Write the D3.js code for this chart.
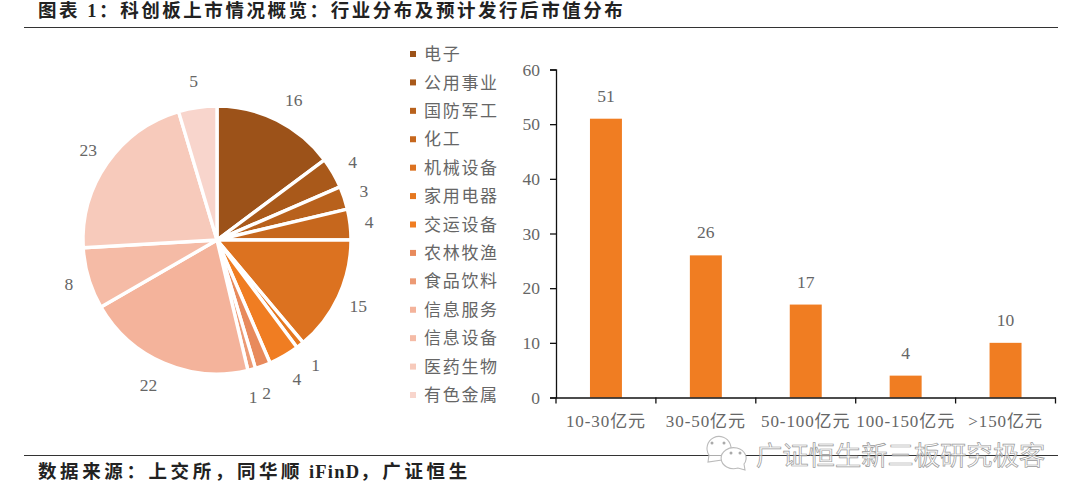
<!DOCTYPE html>
<html>
<head>
<meta charset="utf-8">
<script src="https://cdn.jsdelivr.net/npm/d3@7/dist/d3.min.js"></script>
<style>
html,body{margin:0;padding:0;background:#fff;}
svg{display:block;}
text{font-family:"Liberation Serif","Noto Sans CJK SC",serif;}
</style>
</head>
<body>
<svg id="chart" width="1080" height="502"></svg>
<script>
const industries = ["电子","公用事业","国防军工","化工","机械设备","家用电器","交运设备","农林牧渔","食品饮料","信息服务","信息设备","医药生物","有色金属"];
const industryCounts = [16,4,3,4,15,1,4,2,1,22,8,23,5];
const industryColors = ["#9c5219","#a9591a","#b8611c","#c6671d","#dc7220","#e5771f","#f07d22","#e88a5c","#ec9a74","#f4b39b","#f5bba6","#f7cabb","#f8d5cc"];
const capBands = ["10-30亿元","30-50亿元","50-100亿元","100-150亿元",">150亿元"];
const capCounts = [51,26,17,4,10];
const yTicks = [0,10,20,30,40,50,60];
const titleText = "图表 1\uFF1A科创板上市情况概览\uFF1A行业分布及预计发行后市值分布";
const sourceParts = ["数据来源\uFF1A上交所\uFF0C同华顺"," iFinD","\uFF0C广证恒生"];
const stampText = "广证恒生新三板研究极客";

const svg = d3.select("#chart");
const grey = "#666";

// header and footer
svg.append("text").attr("x",38).attr("y",17).attr("font-size",18.5).attr("font-weight",700)
  .attr("letter-spacing",2.55).attr("fill","#222").text(titleText);
svg.append("line").attr("x1",24).attr("x2",1058).attr("y1",27.5).attr("y2",27.5).attr("stroke","#333").attr("stroke-width",1);
svg.append("line").attr("x1",24).attr("x2",1058).attr("y1",455.5).attr("y2",455.5).attr("stroke","#333").attr("stroke-width",1);
svg.append("text").attr("x",38).attr("y",478).attr("font-size",18.5).attr("font-weight",700)
  .attr("fill","#222")
  .selectAll("tspan").data(sourceParts).join("tspan")
  .attr("letter-spacing",(d,i)=>i===1?1.2:3.6).text(d=>d);

// industry pie
const pieGroup = svg.append("g").attr("transform","translate(217,240)");
const slices = d3.pie().sort(null).value(d=>d)(industryCounts);
const arc = d3.arc().innerRadius(0).outerRadius(134);
const labelPos = d => {
  const mid = (d.startAngle + d.endAngle) / 2;
  // labels on the large first slice and along the bottom sit a little further clockwise
  const a = (mid < 0.8 || (mid > 2.7 && mid < 4)) ? mid + 0.035 : mid;
  const r = 152 + 9 * Math.abs(Math.cos(mid));
  return [r * Math.sin(a), -r * Math.cos(a)];
};
pieGroup.selectAll("path").data(slices).join("path")
  .attr("d",arc).attr("fill",(d,i)=>industryColors[i])
  .attr("stroke","#fff").attr("stroke-width",3.4).attr("stroke-linejoin","round");
pieGroup.selectAll("text").data(slices).join("text")
  .attr("transform",d=>`translate(${labelPos(d)})`)
  .attr("text-anchor","middle").attr("dy","0.35em")
  .attr("font-size",17.5).attr("fill",grey)
  .text(d=>d.value);

// legend
const legendY = d3.scalePoint().domain(industries).range([54,395]);
const rows = svg.append("g").selectAll("g").data(industries).join("g")
  .attr("transform",d=>`translate(410,${legendY(d)})`);
rows.append("rect").attr("y",-3).attr("width",6).attr("height",6).attr("fill",(d,i)=>industryColors[i]);
rows.append("text").attr("x",14).attr("dy","0.36em").attr("font-size",17)
  .attr("letter-spacing",1.7).attr("fill",grey).text(d=>d);

// market-cap bars
const x = d3.scaleBand().domain(capBands).range([556,1055.5]).paddingInner(0.68).paddingOuter(0.34);
const xOuter = d3.scaleBand().domain(capBands).range([556,1055.5]);
const y = d3.scaleLinear().domain([0,60]).range([397.5,69.5]);
svg.append("g").selectAll("rect").data(capCounts).join("rect")
  .attr("x",(d,i)=>x(capBands[i])).attr("width",x.bandwidth())
  .attr("y",d=>y(d)).attr("height",d=>y(0)-y(d)).attr("fill","#f07d22");
svg.append("g").selectAll("text").data(capCounts).join("text")
  .attr("x",(d,i)=>x(capBands[i])+x.bandwidth()/2).attr("y",d=>y(d)-17)
  .attr("text-anchor","middle").attr("font-size",17.5).attr("fill",grey)
  .text(d=>d);

const yAxis = d3.axisLeft(y).tickValues(yTicks).tickSize(6).tickPadding(10).tickFormat(d3.format("d"));
const xAxis = d3.axisBottom(xOuter).tickSize(0).tickPadding(17);
svg.append("g").attr("transform","translate(556,0)").call(yAxis)
  .call(g=>g.selectAll("text").attr("font-size",17.5).attr("fill",grey).attr("font-family",null))
  .call(g=>g.selectAll("line,path").attr("stroke","#111").attr("stroke-width",1.3));
svg.append("g").attr("transform","translate(0,397.5)").call(xAxis)
  .call(g=>g.selectAll("text").attr("font-size",17).attr("letter-spacing",0.9).attr("fill",grey).attr("font-family",null))
  .call(g=>g.selectAll("path").attr("stroke","#111").attr("stroke-width",1.3));
svg.append("g").selectAll("line").data(d3.range(capBands.length+1)).join("line")
  .attr("x1",i=>556+i*xOuter.step()).attr("x2",i=>556+i*xOuter.step())
  .attr("y1",397.5).attr("y2",403.5).attr("stroke","#111").attr("stroke-width",1.3);

// account stamp across the footer rule: two chat bubbles with eyes, then the name
const stamp = svg.append("g").attr("fill","none").attr("stroke","#bbb").attr("stroke-width",1.1);
stamp.append("path").attr("d","M708 462 L709 455 A12 12 0 1 1 722 460 Z").attr("fill","#fff").attr("fill-opacity",0.6);
stamp.append("path").attr("d","M745 470 L744 464 A12.5 10.5 0 1 0 738 468 Z").attr("fill","#fff");
const eyes = svg.append("g").attr("fill","#aaa");
[[712,443],[724,443],[731,453],[740,453]].forEach(p=>
  eyes.append("circle").attr("cx",p[0]).attr("cy",p[1]).attr("r",1.5));
svg.append("text").attr("x",756).attr("y",465).attr("font-size",26.3).attr("fill","#fff")
  .attr("fill-opacity",0.55).attr("stroke","#999").attr("stroke-width",0.7).text(stampText);
</script>
</body>
</html>
